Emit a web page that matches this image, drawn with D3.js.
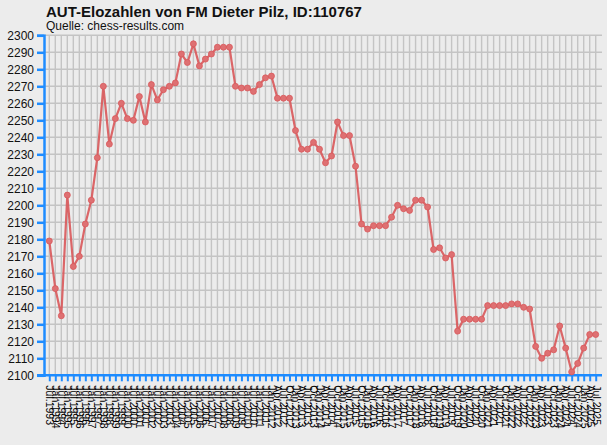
<!DOCTYPE html>
<html>
<head>
<meta charset="utf-8">
<script src="https://cdn.jsdelivr.net/npm/d3@7"></script>
<style>
  body { margin: 0; background: #ececec; }
  svg { display: block; font-family: "Liberation Sans", Arial, sans-serif; }
</style>
</head>
<body>
<script>
// rating lists: half-yearly until Jan 2012, then quarterly
var halfYears = [];
for (var i = 0; i < 38; i++) {
    var yr = 1993 + Math.floor((i + 1) / 2);
    halfYears.push((i % 2 === 0 ? "Jul." : "Jan.") + yr);
}
var quarters = [];
var qNames = ["Jan.", "Apr.", "Jul.", "Oct."];
for (var q = 1; q < 1 + 54; q++) {
    quarters.push(qNames[q % 4] + (2012 + Math.floor(q / 4)));
}
var periods = halfYears.concat(quarters);

var elo = [
    2179, 2151, 2135, 2206, 2164, 2170, 2189, 2203, 2228, 2270,
    2236, 2251, 2260, 2251, 2250, 2264, 2249, 2271, 2262, 2268,
    2270, 2272, 2289, 2284, 2295, 2282, 2286, 2289, 2293, 2293,
    2293, 2270, 2269, 2269, 2267, 2271, 2275, 2276, 2263, 2263,
    2263, 2244, 2233, 2233, 2237, 2233, 2225, 2229, 2249, 2241,
    2241, 2223, 2189, 2186, 2188, 2188, 2188, 2193, 2200, 2198,
    2197, 2203, 2203, 2199, 2174, 2175, 2169, 2171, 2126, 2133,
    2133, 2133, 2133, 2141, 2141, 2141, 2141, 2142, 2142, 2140,
    2139, 2117, 2110, 2113, 2115, 2129, 2116, 2102, 2107, 2116,
    2124, 2124
];
var yTicks = d3.range(2100, 2301, 10);

var width = 607, height = 445;
var plotLeft = 44, plotRight = 602, plotTop = 35.3, plotBottom = 375.3;

var svg = d3.select("body").append("svg")
    .attr("width", width)
    .attr("height", height);

var x = d3.scalePoint()
    .domain(periods)
    .range([49.3, 595.7]);
var y = d3.scaleLinear()
    .domain([2100, 2300])
    .range([plotBottom, plotTop]);

// title
svg.append("text")
    .attr("x", 46).attr("y", 17)
    .attr("font-size", 15).attr("font-weight", "bold")
    .attr("fill", "#111")
    .text("AUT-Elozahlen von FM Dieter Pilz, ID:110767");
svg.append("text")
    .attr("x", 46).attr("y", 29.5)
    .attr("font-size", 12)
    .attr("fill", "#111")
    .text("Quelle: chess-results.com");

// grid
var grid = svg.append("g")
    .attr("stroke", "#c4c4c4")
    .attr("stroke-width", 1.4);
grid.selectAll(".hg")
    .data(yTicks)
    .join("line")
    .attr("x1", plotLeft).attr("x2", plotRight)
    .attr("y1", d => y(d)).attr("y2", d => y(d));
grid.selectAll(".vg")
    .data(periods)
    .join("line")
    .attr("x1", d => x(d)).attr("x2", d => x(d))
    .attr("y1", plotTop).attr("y2", plotBottom);

// y axis
var yAxis = svg.append("g")
    .attr("transform", "translate(" + plotLeft + ",0)")
    .call(d3.axisLeft(y).tickValues(yTicks).tickSize(7).tickPadding(3).tickFormat(d3.format("d")));
yAxis.select(".domain").attr("stroke", "#1e8cff").attr("stroke-width", 2.5);
yAxis.selectAll(".tick line").attr("stroke", "#1e8cff").attr("stroke-width", 2.5);
yAxis.selectAll(".tick text")
    .attr("font-size", 12)
    .attr("font-family", "Liberation Sans, Arial, sans-serif")
    .attr("fill", "#111");

// x axis
var xAxis = svg.append("g")
    .attr("transform", "translate(0," + plotBottom + ")")
    .call(d3.axisBottom(x).tickSize(6).tickSizeOuter(0).tickPadding(4));
xAxis.select(".domain")
    .attr("d", "M" + (plotLeft - 7) + ",0H" + plotRight)
    .attr("stroke", "#1e8cff").attr("stroke-width", 2.5);
xAxis.selectAll(".tick line").attr("stroke", "#1e8cff").attr("stroke-width", 2);
xAxis.selectAll(".tick text")
    .attr("font-size", 10.5)
    .attr("font-family", "Liberation Sans, Arial, sans-serif")
    .attr("fill", "#000")
    .attr("text-anchor", "start")
    .attr("transform", "rotate(90)")
    .attr("x", 10)
    .attr("y", 0)
    .attr("dy", "0.35em");

// line
var line = d3.line()
    .x((d, i) => x(periods[i]))
    .y(d => y(d));
svg.append("path")
    .datum(elo)
    .attr("fill", "none")
    .attr("stroke", "#d9585a")
    .attr("stroke-opacity", 0.9)
    .attr("stroke-width", 2.2)
    .attr("d", line);

svg.append("g")
    .selectAll("circle")
    .data(elo)
    .join("circle")
    .attr("cx", (d, i) => x(periods[i]))
    .attr("cy", d => y(d))
    .attr("r", 3)
    .attr("fill", "#de7072")
    .attr("stroke", "#d9585a")
    .attr("stroke-width", 0.8);
</script>
</body>
</html>
